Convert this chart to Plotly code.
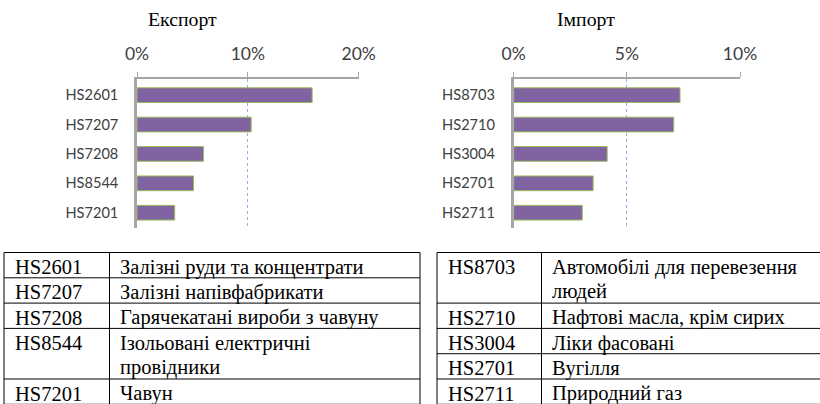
import plotly.graph_objects as go

# ---- data ----
export_codes = ["HS2601", "HS7207", "HS7208", "HS8544", "HS7201"]
export_share = [15.8, 10.3, 6.0, 5.1, 3.4]          # %
import_codes = ["HS8703", "HS2710", "HS3004", "HS2701", "HS2711"]
import_share = [7.35, 7.07, 4.13, 3.51, 3.03]        # %

export_desc = ["Залізні руди та концентрати", "Залізні напівфабрикати",
               "Гарячекатані вироби з чавуну", "Ізольовані електричні<br>провідники", "Чавун"]
import_desc = ["Автомобілі для перевезення<br>людей", "Нафтові масла, крім сирих",
               "Ліки фасовані", "Вугілля", "Природний газ"]

export_ticks = [0, 10, 20]
import_ticks = [0, 5, 10]
titles = ["Експорт", "Імпорт"]

W, H = 820, 404
def fx(px):
    return px / W
def fy(py):
    return 1 - py / H

BAR = "#8064A2"
EDGE = "#9BBB59"
AXIS = "#A6A6A6"
GRID = "#8EB4E3"
LBL = "#404040"
SANS = "Lato, sans-serif"
SERIF = "Liberation Serif, Times New Roman, serif"

fig = go.Figure()
fig.add_trace(go.Bar(x=export_share, y=export_codes, orientation="h", xaxis="x", yaxis="y",
                     marker=dict(color=BAR, line=dict(color=EDGE, width=1)), width=0.5,
                     showlegend=False, hoverinfo="x+y"))
fig.add_trace(go.Bar(x=import_share, y=import_codes, orientation="h", xaxis="x2", yaxis="y2",
                     marker=dict(color=BAR, line=dict(color=EDGE, width=1)), width=0.5,
                     showlegend=False, hoverinfo="x+y"))

ydom = [fy(228), fy(79)]

def xaxis(dom, ticks, anchor):
    return dict(domain=dom, range=[ticks[0], ticks[-1]], side="top", anchor=anchor,
                tickvals=ticks, ticktext=[f"{t}%" for t in ticks],
                showline=True, linecolor=AXIS, linewidth=1.5, mirror=False,
                ticks="outside", ticklen=5, tickcolor=AXIS, tickwidth=1,
                showgrid=True, gridcolor=GRID, griddash="dot", gridwidth=1,
                zeroline=False, ticklabelstandoff=5, automargin=False,
                tickfont=dict(family=SANS, size=17.5, color=LBL), fixedrange=True)

def yaxis(dom, anchor):
    return dict(domain=dom, anchor=anchor, range=[4.52, -0.55], showline=True,
                linecolor=AXIS, linewidth=2.5, ticks="", showgrid=False, zeroline=False,
                ticklabelstandoff=13, tickfont=dict(family=SANS, size=14.6, color=LBL),
                fixedrange=True, automargin=False)

fig.update_layout(
    width=W, height=H, margin=dict(l=0, r=0, t=0, b=0, pad=0, autoexpand=False),
    paper_bgcolor="white", plot_bgcolor="white", bargap=0.5,
    xaxis=xaxis([fx(137), fx(358.7)], export_ticks, "y"),
    yaxis=yaxis(ydom, "x"),
    xaxis2=xaxis([fx(513.7), fx(740)], import_ticks, "y2"),
    yaxis2=yaxis(ydom, "x2"),
)

ann = []
for t, cx in zip(titles, [182.5, 586]):
    ann.append(dict(text=t, x=fx(cx), y=fy(19), xref="paper", yref="paper",
                    xanchor="center", yanchor="middle", showarrow=False,
                    font=dict(family=SERIF, size=19.8, color="black")))

shapes = []
ROW = 25.3
TOP = 252.5
FS = 20.5
def table(codes, descs, x0, xdiv, x1, right_border):
    y = TOP
    tops = [y]
    for c, d in zip(codes, descs):
        lines = d.split("<br>")
        ann.append(dict(text=c, x=fx(x0 + 9), y=fy(y + 14.6), xref="paper", yref="paper",
                        xanchor="left", yanchor="middle", showarrow=False,
                        font=dict(family=SERIF, size=FS, color="black")))
        for i, ln in enumerate(lines):
            ann.append(dict(text=ln, x=fx(xdiv + 8.5), y=fy(y + 14.6 + i * 24.6), xref="paper",
                            yref="paper", xanchor="left", yanchor="middle", showarrow=False,
                            font=dict(family=SERIF, size=FS, color="black")))
        y += ROW * len(lines)
        tops.append(y)
    for yy in tops:
        shapes.append(dict(type="line", xref="paper", yref="paper", x0=fx(x0), x1=fx(x1),
                           y0=fy(yy), y1=fy(yy), line=dict(color="black", width=1)))
    xs = [x0, xdiv] + ([x1] if right_border else [])
    for xx in xs:
        shapes.append(dict(type="line", xref="paper", yref="paper", x0=fx(xx), x1=fx(xx),
                           y0=fy(TOP), y1=fy(tops[-1]), line=dict(color="black", width=1)))

table(export_codes, export_desc, 4, 109.5, 420, True)
table(import_codes, import_desc, 437, 541.5, 822, False)

fig.update_layout(annotations=ann, shapes=shapes)
fig.write_html("out.html", config={"displayModeBar": False},
               post_script="document.body.style.margin='0';")
